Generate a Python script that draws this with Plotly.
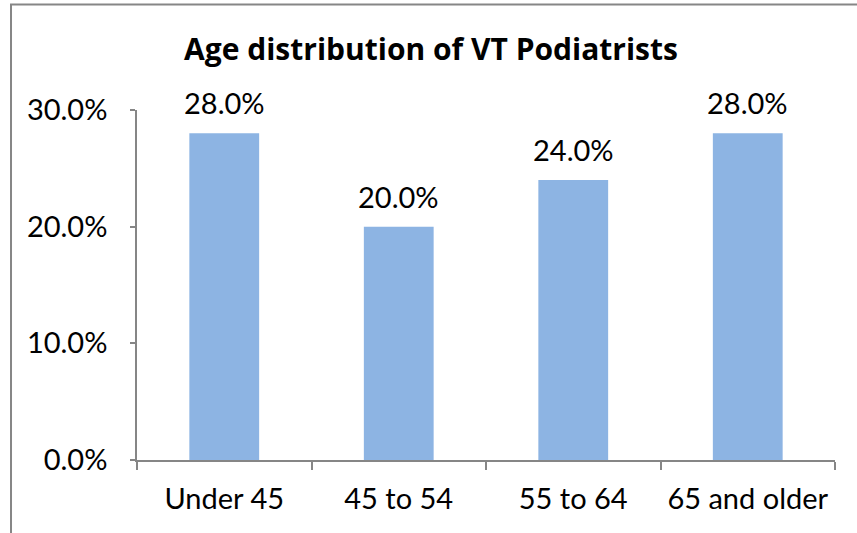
import plotly.graph_objects as go

categories = ["Under 45", "45 to 54", "55 to 64", "65 and older"]
shares = [0.28, 0.20, 0.24, 0.28]
label_texts = ["28.0%", "20.0%", "24.0%", "28.0%"]
y_ticks = [0.0, 0.1, 0.2, 0.3]
y_tick_labels = ["0.0%", "10.0%", "20.0%", "30.0%"]
title_text = "Age distribution of VT Podiatrists"

FONT = "Lato"
TITLE_FONT = "Open Sans"
AXIS_GRAY = "#868686"
FS = 29

fig = go.Figure()
fig.add_trace(go.Bar(
    x=categories, y=shares,
    marker=dict(color="#8DB4E3", line=dict(width=0)),
    width=0.4,
    hoverinfo="skip",
))

for c, v, t in zip(categories, shares, label_texts):
    fig.add_annotation(x=c, y=v, text=t, showarrow=False,
                       yanchor="bottom", yshift=11,
                       font=dict(family=FONT, size=FS, color="#000000"))

fig.add_shape(type="rect", xref="paper", yref="paper",
              x0=-0.1805, x1=1.06, y0=-0.25, y1=1.3014,
              line=dict(color=AXIS_GRAY, width=2), fillcolor="rgba(0,0,0,0)",
              layer="below")

fig.update_layout(
    width=857, height=533,
    margin=dict(l=137, r=22, t=110, b=73),
    paper_bgcolor="white", plot_bgcolor="white",
    showlegend=False,
    title=dict(text="<b>" + title_text + "</b>", x=431 / 857, xanchor="center",
               xref="container", y=1 - 49 / 533, yanchor="middle",
               font=dict(family=TITLE_FONT, size=30, color="#000000")),
    font=dict(family=FONT, size=FS, color="#000000"),
)
fig.update_xaxes(
    showline=True, linecolor=AXIS_GRAY, linewidth=1.5,
    ticks="outside", ticklen=8, tickcolor=AXIS_GRAY, tickwidth=1.5,
    tickson="boundaries", showgrid=False, zeroline=False,
    tickfont=dict(family=FONT, size=FS, color="#000000"),
    ticklabelstandoff=12,
)
fig.update_yaxes(
    range=[0, 0.3], tickvals=y_ticks, ticktext=y_tick_labels,
    showline=True, linecolor=AXIS_GRAY, linewidth=1.5,
    ticks="outside", ticklen=5, tickcolor=AXIS_GRAY, tickwidth=1.5,
    showgrid=False, zeroline=False,
    tickfont=dict(family=FONT, size=FS, color="#000000"),
    ticklabelstandoff=17,
)

fig.write_html("out.html", config={"displayModeBar": False},
               post_script="document.body.style.margin='0px';")
